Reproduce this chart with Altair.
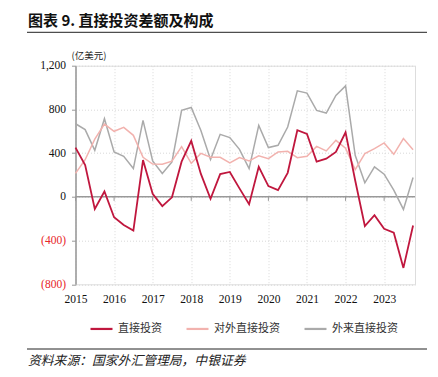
import altair as alt
import pandas as pd

series_names = ["直接投资", "对外直接投资", "外来直接投资"]
series_colors = ["#C0173E", "#F2B2AE", "#AAAAAA"]

quarters = list(range(36))  # 2015Q1 .. 2023Q4
net_fdi = [451, 290, -110, 49, -187, -258, -308, 337, 28, -85, -4, 322,
           512, 210, -17, 208, 228, 78, -68, 275, 99, 61, 220, 610,
           575, 322, 349, 411, 590, 150, -267, -167, -293, -328, -650, -262]
outward = [215, 340, 528, 665, 600, 636, 563, 362, 300, 298, 327, 459,
           307, 398, 362, 362, 310, 359, 329, 375, 350, 411, 417, 359,
           371, 462, 420, 517, 445, 250, 395, 441, 493, 389, 533, 432]
inward = [669, 615, 426, 715, 411, 371, 259, 700, 329, 213, 319, 791,
          818, 608, 341, 572, 542, 435, 259, 654, 451, 472, 639, 970,
          949, 791, 767, 928, 1015, 380, 128, 274, 207, 61, -115, 177]

year_ticks = [0, 4, 8, 12, 16, 20, 24, 28, 32]
y_ticks = [-800, -400, 0, 400, 800, 1200]

title_text = "图表 9. 直接投资差额及构成"
unit_text = "(亿美元)"
source_text = "资料来源：国家外汇管理局，中银证券"

rows = []
for name, vals in zip(series_names, [net_fdi, outward, inward]):
    for q, v in zip(quarters, vals):
        rows.append({"q": q, "series": name, "value": v})
df = pd.DataFrame(rows)

CJK = "Noto Sans CJK SC"
SERIF = "Liberation Serif"

xscale = alt.Scale(domain=[0, 35.2], nice=False, zero=False)
yscale = alt.Scale(domain=[-800, 1200], nice=False)
color = alt.Color(
    "series:N",
    scale=alt.Scale(domain=series_names, range=series_colors),
    legend=alt.Legend(
        title=None, orient="none", direction="horizontal",
        legendX=13.5, legendY=250.5, symbolType="stroke", symbolSize=484,
        symbolStrokeWidth=2.2, labelFont=CJK, labelFontSize=11,
        labelColor="#333333", labelOffset=4, columnPadding=20, padding=0,
    ),
)

x_enc = alt.X(
    "q:Q", scale=xscale, title=None,
    axis=alt.Axis(values=year_ticks, labelExpr="2015 + datum.value / 4",
                  domain=False, ticks=False, grid=True, gridColor="#D8D8D8",
                  gridDash=[1, 2], labelFont=SERIF, labelFontSize=11.5,
                  labelColor="#111111", labelPadding=9, labelFlush=False,
                  labelOverlap=False),
)
y_enc = alt.Y(
    "value:Q", scale=yscale, title=None,
    axis=alt.Axis(values=y_ticks,
                  labelExpr="datum.value < 0 ? '(' + format(-datum.value, ',') + ')' : format(datum.value, ',')",
                  labelColor=alt.condition("datum.value < 0", alt.value("#E8262A"), alt.value("#111111")),
                  domain=True, domainColor="#999999", domainWidth=1.5,
                  ticks=True, tickColor="#999999", tickSize=4,
                  grid=True, gridColor="#D8D8D8", gridDash=[1, 2],
                  labelFont=SERIF, labelFontSize=11.5, labelPadding=6,
                  labelFlush=False),
)

base = alt.Chart(df)
lines = []
for name, w in [("外来直接投资", 1.5), ("对外直接投资", 1.5), ("直接投资", 1.8)]:
    lines.append(
        base.transform_filter(alt.datum.series == name)
        .mark_line(strokeWidth=w)
        .encode(x=x_enc, y=y_enc, color=color)
    )

zero_df = pd.DataFrame({"v": [0]})
zero_rule = alt.Chart(zero_df).mark_rule(color="#999999", strokeWidth=1.5).encode(
    y=alt.Y("v:Q", scale=yscale)
)
tick_df = pd.DataFrame({"q": year_ticks, "v": [0] * len(year_ticks)})
zero_ticks = alt.Chart(tick_df).mark_point(
    shape="M0,0L0,1", size=64, filled=False, color="#999999", strokeWidth=1, opacity=1
).encode(x=alt.X("q:Q", scale=xscale), y=alt.Y("v:Q", scale=yscale))


def text_layer(txt, x, y, size, weight="normal", style="normal", font=CJK, color="#111111"):
    return alt.Chart(pd.DataFrame({"t": [txt]})).mark_text(
        align="left", baseline="middle", fontSize=size, fontWeight=weight,
        fontStyle=style, font=font, color=color,
    ).encode(x=alt.value(x), y=alt.value(y), text="t:N")


def hline(y):
    return alt.Chart(pd.DataFrame({"t": [0]})).mark_rule(color="#222222", strokeWidth=1).encode(
        x=alt.value(-48.5), x2=alt.value(351.5), y=alt.value(y)
    )

title = text_layer(title_text, -47.5, -45, 15, weight="bold")
unit = text_layer(unit_text, -4, -10, 9.5, color="#222222")
source = text_layer(source_text, -47.5, 295, 12.8, style="italic", color="#222222")

chart = alt.layer(
    zero_rule, *lines, zero_ticks, title, unit, source, hline(-33.4), hline(283.3)
).properties(
    width=339.5, height=218.6,
    autosize=alt.AutoSizeParams(type="none"),
    padding={"left": 75.5, "top": 65.7, "right": 23, "bottom": 92.7},
).configure_view(stroke=None).configure(background="white")

chart.save("out.html", embed_options={"renderer": "svg", "actions": False})
